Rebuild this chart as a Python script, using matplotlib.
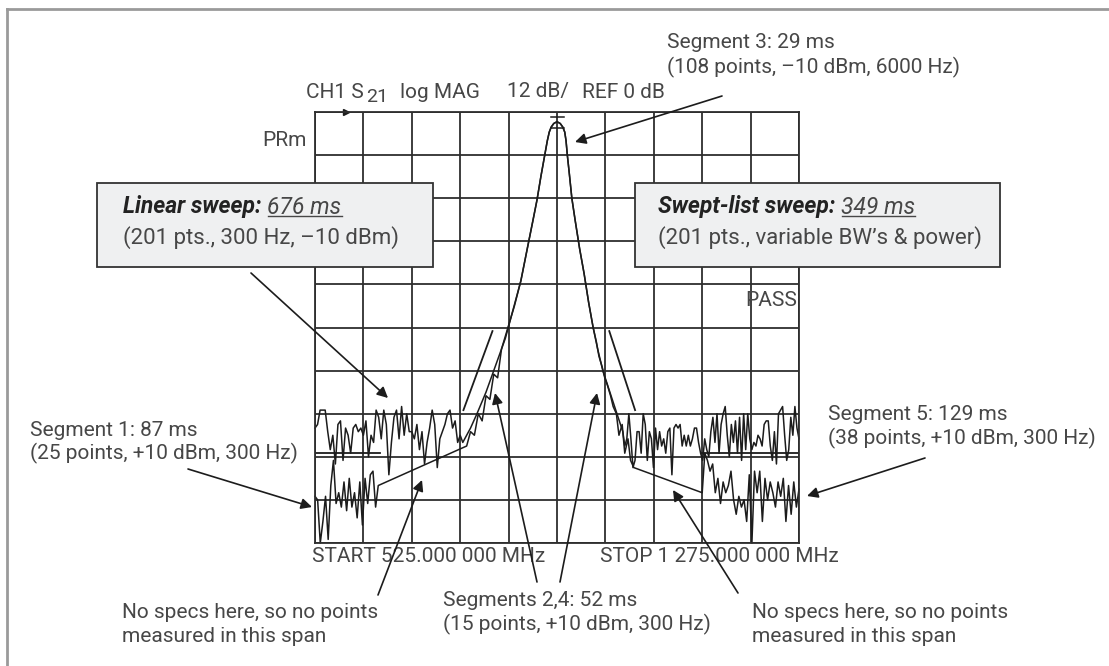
import numpy as np
import matplotlib.pyplot as plt
from matplotlib.patches import Rectangle

plt.rcParams['font.family'] = ['Roboto', 'DejaVu Sans']

# analyzer settings
start_mhz, stop_mhz = 525, 1275
ref_db, db_per_div = 0, 12

# linear sweep noise floor (left and right of the filter)
lin_left_db = [-88, -87, -83, -83, -83, -89, -94, -90, -98, -87, -86, -97, -88, -90, -95,
               -88, -87, -89, -88, -90, -86, -96, -90, -92, -83, -85, -91, -83, -87, -101,
               -92, -85, -83, -91, -82, -90, -84, -89, -89, -91, -87, -94, -89, -98, -92,
               -88, -83, -87, -99, -91, -89, -87, -84, -83, -88, -86, -92, -90]
lin_right_db = [-93, -91, -84, -91, -99, -97, -89, -89, -95, -84, -87, -97, -89, -91, -99,
                -88, -94, -89, -93, -91, -95, -89, -88, -101, -88, -87, -88, -87, -93, -90,
                -93, -90, -93, -91, -88, -88, -92, -95, -97, -91, -94, -96, -89, -85, -92,
                -84, -95, -87, -84, -82, -90, -96, -87, -92, -86, -95, -85, -97, -84, -94,
                -84, -91, -94, -92, -93, -90, -91, -93, -87, -86, -86, -93, -97, -89, -98,
                -84, -83, -82, -90, -97, -94, -85, -90, -82, -88, -91]

# filter passband / skirts
filt_mhz = [754, 766, 776, 790, 802, 814, 824, 834, 844, 854, 863, 869, 875, 881, 885, 888,
            891, 895, 900, 905, 909, 912, 914, 916, 919, 923, 928, 935, 942, 949, 956, 963,
            971, 982, 993, 1002]
filt_db = [-92, -88, -84, -78, -72, -66, -60, -54, -47, -38, -30, -24.5, -18, -12, -8, -5.6,
           -4.2, -3.2, -2.7, -3.2, -4.2, -5.6, -8, -12, -17, -24, -30, -38, -45, -53, -60, -66,
           -72, -78, -84, -89]

# swept-list segments
seg1_db = [-107, -108, -120, -114, -107, -119, -104, -97, -109, -106, -110, -103, -111,
           -102, -110, -106, -113, -103, -115, -102, -109, -101, -100, -110, -104]
seg2_mhz = [760, 766, 772, 778, 784, 790, 796, 802, 808, 814, 820, 826, 832, 838, 844]
seg2_db = [-93, -89, -90, -84, -86, -79, -80, -73, -74, -66, -63, -59, -55, -51, -47]
seg4_mhz = [956, 961, 965, 970, 974, 978, 983, 987, 992, 996, 1001, 1005, 1010, 1014, 1019]
seg4_db = [-60, -64, -68, -71, -74, -76, -79, -82, -84, -90, -87, -95, -91, -97, -99]
seg5_db = [-106, -95, -97, -100, -98, -106, -102, -109, -103, -106, -104, -100, -108, -112,
           -107, -110, -108, -114, -101, -120, -100, -106, -100, -114, -102, -108, -103, -106,
           -110, -103, -107, -102, -114, -104, -112, -103, -110, -105]

# limit lines (MHz, dB)
lim_left = ([525, 626], [-95, -95])
lim_right = ([1124, 1275], [-95, -95])
lim_slope_left = ([755, 800], [-83, -61])
lim_slope_right = ([981, 1021], [-61, -83])

# build traces
fm = np.array(filt_mhz)
fd = np.array(filt_db)
lin_f = np.concatenate([np.linspace(525, 750, len(lin_left_db)), fm,
                        np.linspace(1005, 1275, len(lin_right_db))])
lin_d = np.concatenate([lin_left_db, fd, lin_right_db])

mid = (fm > 844) & (fm < 956)
sl_f = np.concatenate([np.linspace(525, 623, len(seg1_db)), seg2_mhz, fm[mid], seg4_mhz,
                       np.linspace(1125, 1275, len(seg5_db))])
sl_d = np.concatenate([seg1_db, seg2_db, fd[mid], seg4_db, seg5_db])

W, H = 1109, 666
fig = plt.figure(figsize=(W / 100, H / 100), dpi=100)
ax = fig.add_axes([315 / W, 1 - 543 / H, 484 / W, 431 / H])
ax.set_xlim(start_mhz, stop_mhz)
ax.set_ylim(ref_db - 10 * db_per_div, ref_db)
ax.set_xticks(np.linspace(start_mhz, stop_mhz, 11))
ax.set_yticks(np.linspace(ref_db - 10 * db_per_div, ref_db, 11))
ax.tick_params(length=0, labelbottom=False, labelleft=False)
ax.grid(True, color='#2e2e2e', lw=1.3)
for s in ax.spines.values():
    s.set_color('#2e2e2e')
    s.set_linewidth(1.3)

trace = dict(color='#1c1c1c', lw=1.1, clip_on=False)
ax.plot(lin_f, lin_d, **trace)
ax.plot(sl_f, sl_d, **trace)
for xs, ys in [lim_left, lim_right, lim_slope_left, lim_slope_right]:
    ax.plot(xs, ys, color='#1c1c1c', lw=1.3)
# marker at peak and reference arrow
ax.plot([890, 911], [-1.3, -1.3], color='#1c1c1c', lw=1.1)
ax.plot([890, 911], [-4.5, -4.5], color='#1c1c1c', lw=1.1)
ax.plot([573], [0], marker='>', ms=5, color='#1c1c1c', clip_on=False)

# overlay in pixel coordinates for annotations
ov = fig.add_axes([0, 0, 1, 1], facecolor='none')
ov.set_xlim(0, W)
ov.set_ylim(H, 0)
ov.axis('off')

ov.plot([7, 7], [9, H], color='#9a9a9a', lw=2)
ov.plot([7, W], [9, 9], color='#9a9a9a', lw=2)

fs = 15
grey = '#474747'
txt = dict(fontsize=fs, color=grey, va='center')
box_txt = dict(fontsize=16, color=grey, va='center')
hdr = dict(fontsize=16.5, color='#222222', fontweight='bold', style='italic', va='center')
ms = dict(fontsize=16.5, color=grey, style='italic', va='center')

ch = ov.text(306, 92, 'CH1 S', **txt)
ov.annotate('21', xy=(1, 0), xycoords=ch, xytext=(2, -5), textcoords='offset pixels',
            fontsize=fs - 1, color=grey, va='bottom')
ov.text(400, 92, 'log MAG', **txt)
ov.text(507, 92, '12 dB/', **txt)
ov.text(582, 92, 'REF 0 dB', **txt)
ov.text(667, 42, 'Segment 3: 29 ms', **txt)
ov.text(667, 67, '(108 points, \u201310 dBm, 6000 Hz)', **txt)
ov.text(307, 140, 'PRm', ha='right', **txt)
ov.text(797, 300, 'PASS', ha='right', **txt)

ov.add_patch(Rectangle((97, 183), 336, 84, fc='#eff0f1', ec='#333333', lw=1.3))
ov.add_patch(Rectangle((635, 183), 365, 84, fc='#eff0f1', ec='#333333', lw=1.3))
h1 = ov.text(123, 207, 'Linear sweep:', **hdr)
t1 = ov.annotate('676 ms', xy=(1, 0.5), xycoords=h1, xytext=(6, 0),
                 textcoords='offset pixels', **ms)
ov.text(123, 238, '(201 pts., 300 Hz, \u201310 dBm)', **box_txt)
h2 = ov.text(658, 207, 'Swept-list sweep:', **hdr)
t2 = ov.annotate('349 ms', xy=(1, 0.5), xycoords=h2, xytext=(6, 0),
                 textcoords='offset pixels', **ms)
ov.text(658, 238, '(201 pts., variable BW\u2019s & power)', **box_txt)

ov.text(30, 430, 'Segment 1: 87 ms', **txt)
ov.text(30, 453, '(25 points, +10 dBm, 300 Hz)', **txt)
ov.text(828, 415, 'Segment 5: 129 ms', **txt)
ov.text(828, 438, '(38 points, +10 dBm, 300 Hz)', **txt)
ov.text(312, 557, 'START 525.000 000 MHz', **txt)
ov.text(600, 557, 'STOP 1 275.000 000 MHz', **txt)
ov.text(122, 612, 'No specs here, so no points', **txt)
ov.text(122, 636, 'measured in this span', **txt)
ov.text(443, 600, 'Segments 2,4: 52 ms', **txt)
ov.text(443, 624, '(15 points, +10 dBm, 300 Hz)', **txt)
ov.text(752, 612, 'No specs here, so no points', **txt)
ov.text(752, 636, 'measured in this span', **txt)

arrows = [((722, 96), (575, 142)), ((251, 273), (388, 398)), ((188, 469), (312, 507)),
          ((925, 458), (807, 496)), ((378, 595), (422, 480)), ((537, 582), (495, 393)),
          ((560, 582), (597, 393)), ((738, 593), (673, 490))]
for tail, head in arrows:
    ov.annotate('', xy=head, xytext=tail,
                arrowprops=dict(arrowstyle='-|>', color='#1c1c1c', lw=1.2,
                                mutation_scale=16, shrinkA=0, shrinkB=0))

# underline the sweep times
fig.canvas.draw()
inv = ov.transData.inverted()
for t in (t1, t2):
    bb = t.get_window_extent()
    (x0, y0), (x1, _) = inv.transform([(bb.x0, bb.y0 + 3), (bb.x1, bb.y0 + 3)])
    ov.plot([x0 + 1, x1], [y0, y0], color=grey, lw=1)

fig.savefig('out.png', dpi=100)
